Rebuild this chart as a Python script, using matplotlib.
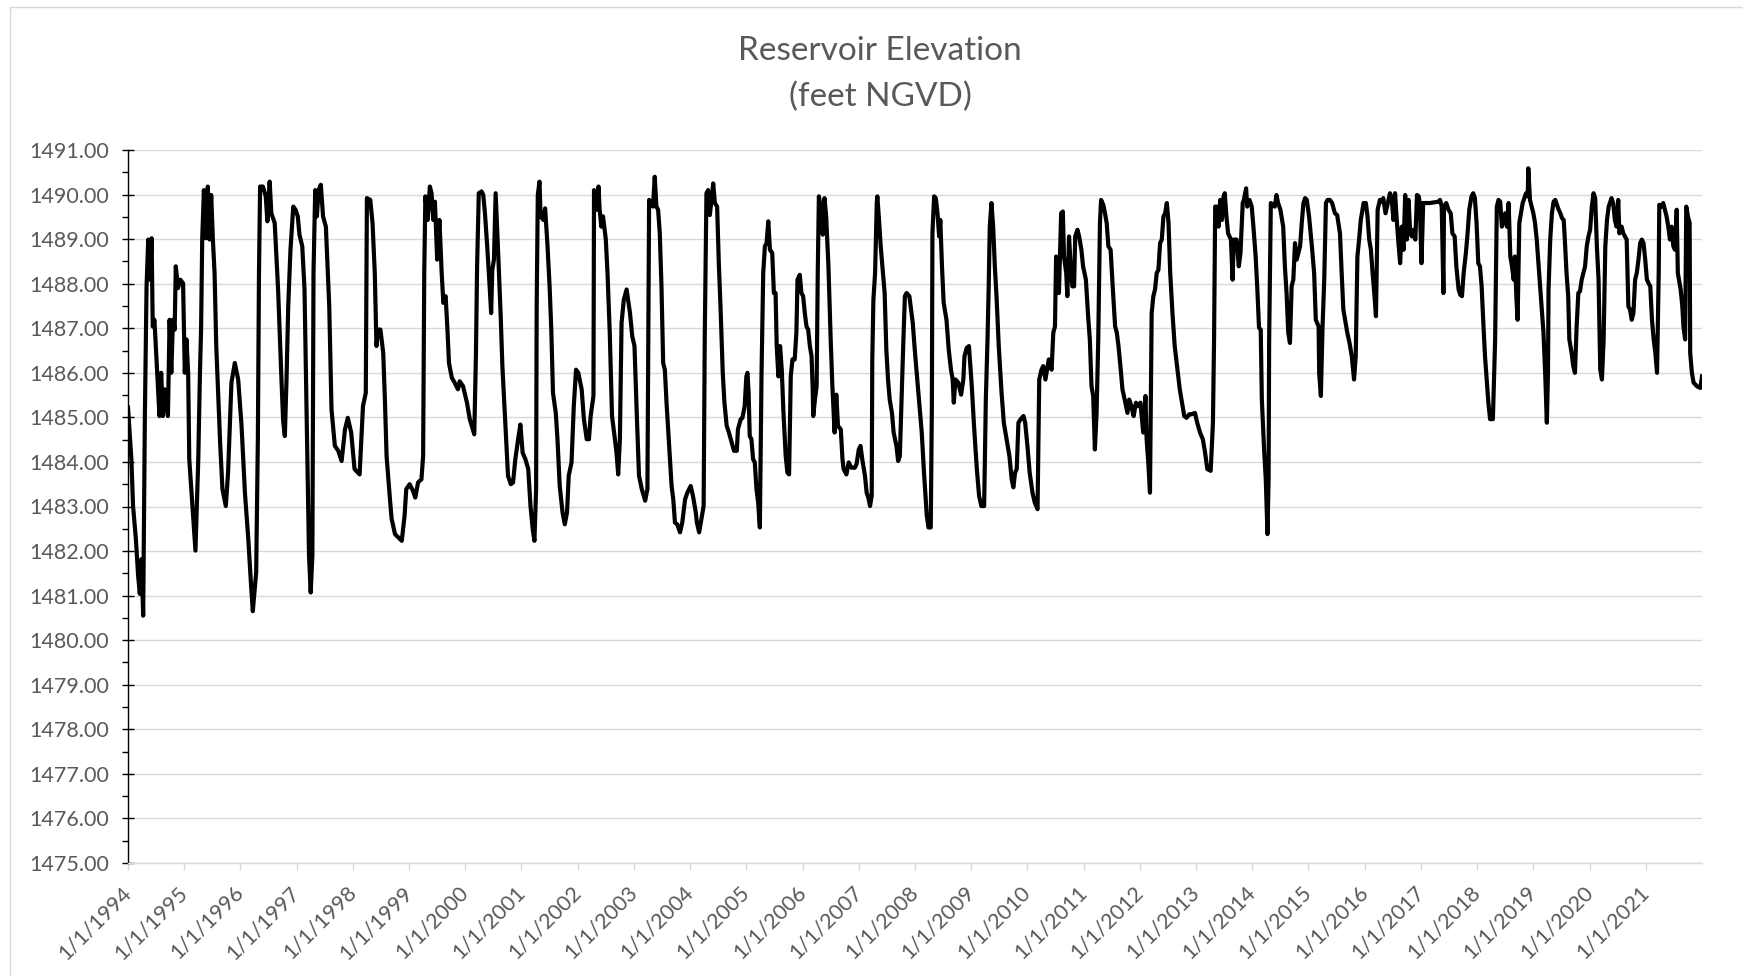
import numpy as np
import matplotlib
matplotlib.use("Agg")
import matplotlib.pyplot as plt
from matplotlib.patches import Rectangle
from matplotlib.ticker import MultipleLocator, FixedLocator

# reservoir elevation (ft NGVD), time as decimal year
yr_1994 = [1994.00, 1994.06, 1994.09, 1994.14, 1994.18, 1994.21, 1994.24, 1994.27, 1994.28, 1994.30,
           1994.33, 1994.36, 1994.39, 1994.42, 1994.44, 1994.47, 1994.52, 1994.56, 1994.59, 1994.62,
           1994.65, 1994.71, 1994.74, 1994.77, 1994.80, 1994.83, 1994.85, 1994.89, 1994.93, 1994.98,
           1995.01, 1995.04, 1995.07, 1995.09, 1995.13, 1995.20, 1995.25, 1995.28, 1995.30, 1995.32,
           1995.35, 1995.38, 1995.42, 1995.45, 1995.48, 1995.51, 1995.54, 1995.57, 1995.60, 1995.64,
           1995.68, 1995.74, 1995.78, 1995.84, 1995.90, 1995.96, 1996.02, 1996.08, 1996.14, 1996.19,
           1996.22, 1996.28, 1996.31, 1996.33, 1996.35, 1996.40, 1996.45, 1996.48, 1996.52, 1996.55,
           1996.61, 1996.67, 1996.73, 1996.76, 1996.79, 1996.82, 1996.85, 1996.89, 1996.94, 1996.98,
           1997.02, 1997.05, 1997.10, 1997.14, 1997.18, 1997.22, 1997.25, 1997.28, 1997.30, 1997.33,
           1997.36, 1997.39, 1997.43, 1997.47, 1997.52, 1997.58, 1997.62, 1997.68, 1997.74, 1997.80,
           1997.86, 1997.91, 1997.97, 1998.03, 1998.12, 1998.18, 1998.23, 1998.25, 1998.31, 1998.35,
           1998.39, 1998.42, 1998.45, 1998.49, 1998.54]
el_1994 = [1485.22, 1484.06, 1483.01, 1482.27, 1481.45, 1481.04, 1481.82, 1480.55, 1482.04, 1485.03,
           1487.94, 1488.99, 1488.09, 1489.02, 1487.04, 1487.19, 1486.00, 1485.03, 1486.00, 1485.03,
           1485.63, 1485.03, 1487.19, 1486.00, 1487.19, 1486.97, 1488.39, 1487.90, 1488.09, 1488.01,
           1486.00, 1486.75, 1486.00, 1484.06, 1483.31, 1482.01, 1484.06, 1486.00, 1486.97, 1488.99,
           1490.10, 1489.02, 1490.18, 1488.99, 1489.99, 1488.99, 1488.24, 1486.60, 1485.63, 1484.40,
           1483.39, 1483.01, 1483.76, 1485.78, 1486.22, 1485.85, 1484.81, 1483.31, 1482.27, 1481.22,
           1480.65, 1481.52, 1484.51, 1488.24, 1490.18, 1490.18, 1489.96, 1489.40, 1490.29, 1489.58,
           1489.36, 1487.87, 1485.85, 1484.92, 1484.58, 1485.85, 1487.49, 1488.76, 1489.73, 1489.66,
           1489.51, 1489.10, 1488.84, 1487.87, 1484.88, 1481.90, 1481.07, 1481.90, 1488.24, 1490.10,
           1489.51, 1490.10, 1490.22, 1489.51, 1489.28, 1487.49, 1485.18, 1484.36, 1484.25, 1484.02,
           1484.73, 1484.99, 1484.66, 1483.84, 1483.72, 1485.25, 1485.55, 1489.92, 1489.88, 1489.36,
           1488.24, 1486.60, 1486.97, 1486.97, 1486.45]

yr_1998 = [1998.57, 1998.60, 1998.66, 1998.69, 1998.75, 1998.87, 1998.92, 1998.95, 1999.01, 1999.07,
           1999.11, 1999.16, 1999.22, 1999.25, 1999.27, 1999.29, 1999.33, 1999.37, 1999.40, 1999.43,
           1999.46, 1999.50, 1999.54, 1999.58, 1999.61, 1999.65, 1999.68, 1999.71, 1999.76, 1999.81,
           1999.87, 1999.90, 1999.96, 2000.03, 2000.08, 2000.16, 2000.19, 2000.21, 2000.24, 2000.29,
           2000.32, 2000.35, 2000.39, 2000.43, 2000.46, 2000.48, 2000.51, 2000.54, 2000.59, 2000.63,
           2000.66, 2000.70, 2000.76, 2000.81, 2000.85, 2000.89, 2000.94, 2000.98, 2001.02, 2001.07,
           2001.12, 2001.16, 2001.20, 2001.23, 2001.26, 2001.27, 2001.29, 2001.32, 2001.34, 2001.39,
           2001.42, 2001.46, 2001.50, 2001.53, 2001.56, 2001.61, 2001.64, 2001.68, 2001.73, 2001.77,
           2001.81, 2001.84, 2001.89, 2001.93, 2001.97, 2002.01, 2002.07, 2002.11, 2002.16, 2002.20,
           2002.23, 2002.28, 2002.29, 2002.34, 2002.37, 2002.39, 2002.42, 2002.45, 2002.50, 2002.53,
           2002.57, 2002.61, 2002.64, 2002.69, 2002.72, 2002.75, 2002.78, 2002.82, 2002.87, 2002.93,
           2002.97, 2003.01, 2003.05, 2003.09, 2003.14, 2003.20, 2003.24, 2003.27]
el_1998 = [1485.40, 1484.13, 1483.16, 1482.72, 1482.38, 1482.23, 1482.79, 1483.39, 1483.50, 1483.35,
           1483.20, 1483.54, 1483.61, 1484.13, 1488.24, 1489.96, 1489.43, 1490.18, 1490.03, 1489.43,
           1489.84, 1488.54, 1489.43, 1488.24, 1487.57, 1487.72, 1487.04, 1486.22, 1485.89, 1485.78,
           1485.63, 1485.81, 1485.70, 1485.33, 1484.96, 1484.62, 1486.45, 1488.39, 1490.03, 1490.07,
           1489.99, 1489.58, 1488.84, 1488.01, 1487.34, 1488.31, 1488.54, 1490.03, 1488.54, 1487.27,
           1486.15, 1485.18, 1483.69, 1483.50, 1483.54, 1484.06, 1484.51, 1484.84, 1484.21, 1484.06,
           1483.84, 1483.01, 1482.49, 1482.23, 1483.39, 1487.49, 1489.99, 1490.29, 1489.51, 1489.43,
           1489.69, 1488.91, 1487.94, 1486.97, 1485.55, 1485.10, 1484.51, 1483.46, 1482.87, 1482.60,
           1482.87, 1483.69, 1483.99, 1485.25, 1486.07, 1486.00, 1485.63, 1484.96, 1484.51, 1484.51,
           1485.03, 1485.48, 1490.10, 1489.66, 1490.18, 1489.66, 1489.28, 1489.51, 1488.99, 1488.24,
           1486.90, 1485.03, 1484.73, 1484.21, 1483.72, 1484.51, 1487.12, 1487.64, 1487.87, 1487.34,
           1486.82, 1486.60, 1485.10, 1483.69, 1483.39, 1483.13, 1483.39, 1489.88]

yr_2003 = [2003.31, 2003.34, 2003.37, 2003.40, 2003.43, 2003.46, 2003.49, 2003.52, 2003.55, 2003.58,
           2003.62, 2003.67, 2003.70, 2003.73, 2003.77, 2003.82, 2003.86, 2003.91, 2003.95, 2004.01,
           2004.05, 2004.10, 2004.12, 2004.16, 2004.20, 2004.24, 2004.26, 2004.29, 2004.32, 2004.35,
           2004.38, 2004.41, 2004.44, 2004.48, 2004.51, 2004.54, 2004.58, 2004.61, 2004.65, 2004.69,
           2004.74, 2004.78, 2004.83, 2004.85, 2004.90, 2004.93, 2004.97, 2005.00, 2005.02, 2005.04,
           2005.06, 2005.09, 2005.12, 2005.15, 2005.18, 2005.21, 2005.24, 2005.27, 2005.30, 2005.33,
           2005.36, 2005.39, 2005.42, 2005.46, 2005.49, 2005.52, 2005.54, 2005.57, 2005.60, 2005.63,
           2005.66, 2005.70, 2005.73, 2005.76, 2005.79, 2005.82, 2005.86, 2005.89, 2005.91, 2005.95,
           2005.98, 2006.01, 2006.04, 2006.07, 2006.10, 2006.13, 2006.16, 2006.18, 2006.19, 2006.22,
           2006.25, 2006.27, 2006.29, 2006.32, 2006.36, 2006.39, 2006.42, 2006.46, 2006.50, 2006.53,
           2006.57, 2006.60, 2006.63, 2006.68, 2006.71, 2006.73, 2006.78, 2006.82, 2006.87, 2006.93,
           2006.96, 2007.00, 2007.03, 2007.07, 2007.11, 2007.14, 2007.17, 2007.20, 2007.23, 2007.24,
           2007.26, 2007.29, 2007.32, 2007.33, 2007.36, 2007.39, 2007.42, 2007.46, 2007.49, 2007.52,
           2007.55, 2007.59, 2007.62, 2007.67, 2007.70, 2007.73, 2007.76, 2007.79, 2007.82, 2007.85,
           2007.90]
el_2003 = [1489.81, 1489.73, 1490.40, 1489.73, 1489.66, 1489.13, 1487.94, 1486.22, 1486.07, 1485.33,
           1484.51, 1483.46, 1483.16, 1482.64, 1482.60, 1482.42, 1482.64, 1483.16, 1483.31, 1483.46,
           1483.24, 1482.87, 1482.64, 1482.42, 1482.72, 1483.01, 1486.82, 1490.03, 1490.10, 1489.54,
           1489.88, 1490.25, 1489.81, 1489.73, 1488.46, 1487.49, 1486.00, 1485.33, 1484.81, 1484.66,
           1484.43, 1484.25, 1484.25, 1484.73, 1484.96, 1484.99, 1485.25, 1485.92, 1486.00, 1485.55,
           1484.58, 1484.51, 1484.06, 1483.99, 1483.39, 1483.09, 1482.53, 1486.00, 1488.24, 1488.84,
           1488.91, 1489.40, 1488.76, 1488.69, 1487.79, 1487.79, 1486.60, 1485.92, 1486.60, 1486.07,
           1485.10, 1484.13, 1483.76, 1483.72, 1485.92, 1486.30, 1486.30, 1486.90, 1488.09, 1488.20,
           1487.79, 1487.72, 1487.34, 1487.04, 1486.97, 1486.60, 1486.37, 1485.63, 1485.03, 1485.40,
           1485.70, 1488.24, 1489.96, 1489.73, 1489.10, 1489.92, 1489.51, 1488.39, 1486.75, 1485.70,
           1484.66, 1485.51, 1484.81, 1484.73, 1484.06, 1483.84, 1483.72, 1483.99, 1483.87, 1483.87,
           1483.95, 1484.28, 1484.36, 1483.99, 1483.69, 1483.31, 1483.20, 1483.01, 1483.24, 1486.30,
           1487.64, 1488.24, 1489.81, 1489.96, 1489.43, 1488.84, 1488.39, 1487.79, 1486.52, 1485.85,
           1485.40, 1485.10, 1484.66, 1484.36, 1484.02, 1484.13, 1485.40, 1486.60, 1487.72, 1487.79,
           1487.72]

yr_2008 = [2007.96, 2008.00, 2008.03, 2008.07, 2008.12, 2008.16, 2008.21, 2008.24, 2008.28, 2008.30,
           2008.31, 2008.34, 2008.37, 2008.40, 2008.43, 2008.45, 2008.48, 2008.51, 2008.56, 2008.60,
           2008.64, 2008.67, 2008.69, 2008.72, 2008.77, 2008.82, 2008.86, 2008.88, 2008.92, 2008.96,
           2009.01, 2009.05, 2009.10, 2009.14, 2009.18, 2009.23, 2009.24, 2009.26, 2009.29, 2009.31,
           2009.33, 2009.36, 2009.39, 2009.42, 2009.45, 2009.49, 2009.54, 2009.58, 2009.63, 2009.68,
           2009.72, 2009.75, 2009.78, 2009.81, 2009.84, 2009.88, 2009.93, 2009.96, 2010.00, 2010.04,
           2010.09, 2010.13, 2010.18, 2010.21, 2010.25, 2010.28, 2010.32, 2010.35, 2010.38, 2010.43,
           2010.46, 2010.49, 2010.51, 2010.53, 2010.56, 2010.60, 2010.63, 2010.65, 2010.69, 2010.71,
           2010.74, 2010.77, 2010.80, 2010.83, 2010.85, 2010.89, 2010.92, 2010.96, 2010.99, 2011.04,
           2011.08, 2011.11, 2011.14, 2011.17, 2011.20, 2011.23, 2011.26, 2011.29, 2011.31, 2011.35,
           2011.38, 2011.41, 2011.44, 2011.48, 2011.52, 2011.56, 2011.59, 2011.62, 2011.66, 2011.69,
           2011.73, 2011.78, 2011.81, 2011.85, 2011.89, 2011.93, 2011.97, 2012.01, 2012.06, 2012.10,
           2012.12, 2012.15, 2012.18, 2012.21, 2012.24, 2012.27, 2012.30, 2012.33, 2012.36, 2012.39,
           2012.42, 2012.45, 2012.48, 2012.51, 2012.54]
el_2008 = [1487.12, 1486.45, 1486.00, 1485.40, 1484.66, 1483.76, 1482.79, 1482.53, 1482.53, 1485.25,
           1489.13, 1489.96, 1489.92, 1489.58, 1489.06, 1489.43, 1488.39, 1487.57, 1487.19, 1486.52,
           1486.07, 1485.85, 1485.33, 1485.85, 1485.78, 1485.51, 1485.85, 1486.37, 1486.56, 1486.60,
           1485.70, 1484.81, 1483.84, 1483.24, 1483.01, 1483.01, 1483.76, 1485.40, 1486.75, 1487.87,
           1489.28, 1489.81, 1489.28, 1488.39, 1487.72, 1486.60, 1485.55, 1484.88, 1484.51, 1484.13,
           1483.61, 1483.43, 1483.76, 1483.84, 1484.88, 1484.96, 1485.03, 1484.88, 1484.36, 1483.76,
           1483.31, 1483.09, 1482.94, 1485.85, 1486.07, 1486.15, 1485.85, 1486.07, 1486.30, 1486.07,
           1486.90, 1487.04, 1488.61, 1488.39, 1487.79, 1489.58, 1489.62, 1488.61, 1488.24, 1487.72,
           1489.06, 1488.39, 1487.94, 1487.94, 1489.06, 1489.21, 1489.06, 1488.76, 1488.39, 1488.09,
           1487.27, 1486.75, 1485.70, 1485.48, 1484.28, 1485.10, 1486.75, 1489.36, 1489.88, 1489.77,
           1489.58, 1489.36, 1488.84, 1488.76, 1487.87, 1487.04, 1486.90, 1486.60, 1486.07, 1485.63,
           1485.40, 1485.10, 1485.40, 1485.25, 1485.03, 1485.33, 1485.25, 1485.33, 1484.66, 1485.48,
           1484.51, 1483.99, 1483.31, 1487.34, 1487.72, 1487.87, 1488.24, 1488.31, 1488.91, 1488.99,
           1489.51, 1489.58, 1489.81, 1489.36, 1488.24]

yr_2012 = [2012.58, 2012.62, 2012.67, 2012.71, 2012.76, 2012.79, 2012.83, 2012.88, 2012.92, 2012.98,
           2013.02, 2013.07, 2013.12, 2013.16, 2013.20, 2013.26, 2013.30, 2013.32, 2013.34, 2013.37,
           2013.40, 2013.43, 2013.46, 2013.49, 2013.51, 2013.54, 2013.57, 2013.62, 2013.65, 2013.67,
           2013.72, 2013.76, 2013.79, 2013.83, 2013.85, 2013.89, 2013.91, 2013.95, 2013.99, 2014.02,
           2014.06, 2014.09, 2014.12, 2014.15, 2014.17, 2014.21, 2014.24, 2014.27, 2014.29, 2014.30,
           2014.33, 2014.36, 2014.40, 2014.43, 2014.46, 2014.50, 2014.55, 2014.58, 2014.61, 2014.64,
           2014.67, 2014.70, 2014.73, 2014.76, 2014.79, 2014.82, 2014.85, 2014.88, 2014.91, 2014.94,
           2014.97, 2015.01, 2015.06, 2015.10, 2015.13, 2015.18, 2015.19, 2015.22, 2015.25, 2015.28,
           2015.31, 2015.34, 2015.38, 2015.42, 2015.47, 2015.51, 2015.56, 2015.59, 2015.62, 2015.66,
           2015.69, 2015.73, 2015.77, 2015.81, 2015.84, 2015.87, 2015.90, 2015.93, 2015.98, 2016.02,
           2016.05, 2016.08, 2016.11, 2016.14, 2016.17, 2016.20, 2016.23, 2016.27, 2016.30, 2016.33,
           2016.37, 2016.41, 2016.45, 2016.48, 2016.51, 2016.54, 2016.57, 2016.60, 2016.63, 2016.66,
           2016.69, 2016.72, 2016.75, 2016.78, 2016.81, 2016.84, 2016.87, 2016.90, 2016.93, 2016.96,
           2016.98, 2017.01, 2017.04]
el_2012 = [1487.34, 1486.60, 1486.07, 1485.63, 1485.25, 1485.03, 1484.99, 1485.07, 1485.07, 1485.10,
           1484.88, 1484.66, 1484.51, 1484.21, 1483.84, 1483.80, 1484.88, 1486.75, 1489.73, 1489.73,
           1489.28, 1489.88, 1489.43, 1489.96, 1490.03, 1489.51, 1489.13, 1488.99, 1488.09, 1488.99,
           1488.99, 1488.39, 1488.69, 1489.81, 1489.88, 1490.14, 1489.73, 1489.88, 1489.73, 1489.28,
           1488.61, 1487.87, 1487.01, 1486.97, 1485.40, 1484.28, 1483.61, 1482.38, 1483.61, 1486.75,
           1489.81, 1489.77, 1489.73, 1489.99, 1489.81, 1489.66, 1489.28, 1488.39, 1487.79, 1486.90,
           1486.67, 1487.94, 1488.09, 1488.91, 1488.54, 1488.69, 1488.84, 1489.36, 1489.81, 1489.92,
           1489.88, 1489.51, 1488.84, 1488.24, 1487.19, 1487.04, 1486.00, 1485.48, 1487.04, 1488.09,
           1489.81, 1489.88, 1489.88, 1489.81, 1489.58, 1489.54, 1489.13, 1488.24, 1487.42, 1487.12,
           1486.90, 1486.67, 1486.37, 1485.85, 1486.37, 1488.61, 1488.99, 1489.43, 1489.81, 1489.81,
           1489.51, 1488.99, 1488.76, 1488.24, 1487.79, 1487.27, 1489.66, 1489.88, 1489.84, 1489.92,
           1489.58, 1489.81, 1490.03, 1489.92, 1489.43, 1490.03, 1489.43, 1488.91, 1488.46, 1489.28,
           1488.76, 1489.99, 1488.99, 1489.88, 1489.13, 1489.06, 1489.21, 1488.99, 1489.99, 1489.96,
           1489.81, 1488.46, 1489.81]

yr_2017 = [2017.16, 2017.31, 2017.34, 2017.37, 2017.40, 2017.41, 2017.45, 2017.49, 2017.53, 2017.56,
           2017.60, 2017.63, 2017.67, 2017.70, 2017.73, 2017.76, 2017.80, 2017.83, 2017.86, 2017.90,
           2017.93, 2017.96, 2017.99, 2018.02, 2018.05, 2018.08, 2018.11, 2018.14, 2018.17, 2018.20,
           2018.23, 2018.28, 2018.32, 2018.35, 2018.38, 2018.41, 2018.44, 2018.47, 2018.50, 2018.53,
           2018.56, 2018.59, 2018.62, 2018.65, 2018.67, 2018.70, 2018.72, 2018.75, 2018.78, 2018.81,
           2018.84, 2018.87, 2018.90, 2018.91, 2018.94, 2018.97, 2019.00, 2019.03, 2019.06, 2019.09,
           2019.12, 2019.15, 2019.18, 2019.21, 2019.24, 2019.26, 2019.27, 2019.30, 2019.33, 2019.36,
           2019.39, 2019.42, 2019.45, 2019.48, 2019.51, 2019.54, 2019.56, 2019.59, 2019.62, 2019.64,
           2019.68, 2019.71, 2019.74, 2019.77, 2019.80, 2019.83, 2019.86, 2019.89, 2019.92, 2019.95,
           2019.98, 2020.01, 2020.04, 2020.07, 2020.10, 2020.13, 2020.16, 2020.19, 2020.22, 2020.25,
           2020.28, 2020.31, 2020.34, 2020.37, 2020.39, 2020.42, 2020.45, 2020.48, 2020.51, 2020.53,
           2020.57, 2020.60, 2020.63, 2020.66, 2020.69, 2020.72, 2020.75, 2020.78, 2020.81, 2020.84,
           2020.87, 2020.90, 2020.93, 2020.96, 2020.99, 2021.02, 2021.05, 2021.08, 2021.11, 2021.14,
           2021.17, 2021.20, 2021.23, 2021.24, 2021.28, 2021.31, 2021.34, 2021.37, 2021.40, 2021.43,
           2021.46, 2021.49, 2021.52, 2021.55, 2021.57, 2021.60, 2021.62, 2021.65, 2021.67, 2021.70,
           2021.72, 2021.75, 2021.78, 2021.79, 2021.82, 2021.85, 2021.91, 2021.97, 2022.00]
el_2017 = [1489.81, 1489.84, 1489.88, 1489.73, 1487.79, 1489.73, 1489.81, 1489.66, 1489.58, 1489.13,
           1489.06, 1488.39, 1487.87, 1487.75, 1487.72, 1488.24, 1488.69, 1489.13, 1489.66, 1489.96,
           1490.03, 1489.92, 1489.36, 1488.46, 1488.39, 1487.94, 1487.12, 1486.37, 1485.85, 1485.33,
           1484.96, 1484.96, 1486.75, 1489.73, 1489.88, 1489.84, 1489.28, 1489.43, 1489.58, 1489.28,
           1489.81, 1488.61, 1488.39, 1488.09, 1488.61, 1487.64, 1487.19, 1489.36, 1489.58, 1489.81,
           1489.92, 1490.03, 1489.96, 1490.59, 1489.88, 1489.73, 1489.58, 1489.36, 1488.99, 1488.46,
           1487.94, 1487.42, 1486.90, 1486.00, 1484.88, 1486.00, 1487.87, 1488.99, 1489.58, 1489.84,
           1489.88, 1489.77, 1489.66, 1489.58, 1489.47, 1489.43, 1488.99, 1488.24, 1487.72, 1486.75,
           1486.45, 1486.15, 1486.00, 1487.04, 1487.79, 1487.83, 1488.09, 1488.24, 1488.39, 1488.84,
           1489.06, 1489.21, 1489.73, 1490.03, 1489.92, 1488.84, 1488.09, 1486.07, 1485.85, 1486.75,
           1488.84, 1489.43, 1489.73, 1489.84, 1489.92, 1489.81, 1489.43, 1489.28, 1489.88, 1489.13,
           1489.28, 1489.13, 1489.06, 1488.99, 1487.49, 1487.42, 1487.19, 1487.34, 1488.09, 1488.24,
           1488.54, 1488.91, 1488.99, 1488.91, 1488.54, 1488.09, 1488.01, 1487.94, 1487.19, 1486.75,
           1486.45, 1486.00, 1488.24, 1489.77, 1489.73, 1489.81, 1489.66, 1489.51, 1489.28, 1488.99,
           1489.28, 1488.84, 1488.76, 1489.66, 1488.24, 1488.01, 1487.87, 1487.49, 1487.04, 1486.75,
           1489.73, 1489.51, 1489.36, 1486.45, 1486.00, 1485.78, 1485.70, 1485.66, 1485.92]

year_ticks = list(range(1994, 2022))
tick_labels = ["1/1/%d" % y for y in year_ticks]

years = np.concatenate([yr_1994, yr_1998, yr_2003, yr_2008, yr_2012, yr_2017])
elev = np.concatenate([el_1994, el_1998, el_2003, el_2008, el_2012, el_2017])

plt.rcParams['font.family'] = ['Lato', 'DejaVu Sans']
gray = '#595959'
light = '#d9d9d9'

W, H = 1743, 976
fig = plt.figure(figsize=(W / 100, H / 100), dpi=100)
ax = fig.add_axes([128 / W, 1 - 863 / H, (1702 - 128) / W, (863 - 150) / H])

ax.plot(years, elev, color='black', lw=3.0, solid_joinstyle='round', zorder=3)

ax.set_xlim(1994, years[-1])
ax.set_ylim(1475, 1491)

ax.yaxis.set_major_locator(MultipleLocator(1))
ax.yaxis.set_minor_locator(MultipleLocator(0.5))
ax.yaxis.set_major_formatter(matplotlib.ticker.FormatStrFormatter('%.2f'))
ax.grid(axis='y', which='major', color=light, lw=1.0, zorder=0)

ax.xaxis.set_major_locator(FixedLocator(year_ticks))
ax.set_xticklabels(tick_labels, rotation=45, ha='right', va='center',
                   rotation_mode='anchor')

for s in ['top', 'right']:
    ax.spines[s].set_visible(False)
ax.spines['left'].set_color('black')
ax.spines['left'].set_linewidth(1.0)
ax.spines['bottom'].set_color(light)
ax.spines['bottom'].set_linewidth(1.0)

ax.tick_params(axis='y', which='major', direction='inout', length=9, width=1.0,
               color='black', labelsize=15.5, labelcolor=gray, pad=9)
ax.tick_params(axis='y', which='minor', direction='out', length=4.5, width=1.0,
               color='black')
ax.tick_params(axis='x', which='major', direction='out', length=5, width=1.0,
               color=light, labelsize=15.5, labelcolor=gray, pad=14)

fig.text(0.505, 1 - 51 / H, 'Reservoir Elevation', ha='center', va='center',
         fontsize=24, color=gray)
fig.text(0.505, 1 - 97 / H, '(feet NGVD)', ha='center', va='center',
         fontsize=24, color=gray)

# chart area border (left and top edges visible in the crop)
fig.add_artist(Rectangle((10 / W, -0.5), 2, 1.5 - 7 / H, transform=fig.transFigure,
                         fill=False, edgecolor=light, lw=1.0))

fig.savefig('out.png', dpi=100)
